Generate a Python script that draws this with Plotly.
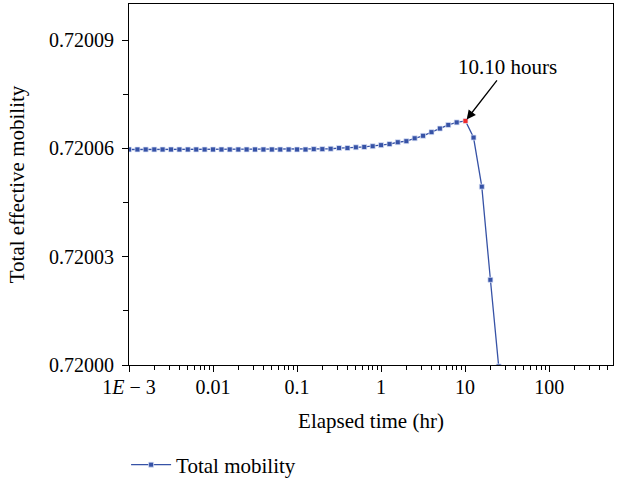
import math
import plotly.graph_objects as go

# Elapsed time (hr)
times = [0.001, 0.00126, 0.00158, 0.002, 0.00251, 0.00316, 0.00398, 0.00501, 0.00631, 0.00794,
         0.01, 0.0126, 0.0158, 0.02, 0.0251, 0.0316, 0.0398, 0.0501, 0.0631, 0.0794,
         0.1, 0.126, 0.158, 0.2, 0.251, 0.316, 0.398, 0.501, 0.631, 0.794,
         1.0, 1.26, 1.58, 2.0, 2.51, 3.16, 3.98, 5.01, 6.31, 7.94,
         10.10, 12.6, 15.8, 20.0, 25.1]

# Total effective mobility
mobility = [0.7200597] * 22 + [
    0.7200598, 0.7200598, 0.7200599, 0.7200601, 0.7200601, 0.7200603, 0.7200604,
    0.7200606, 0.7200609, 0.7200612, 0.7200617, 0.7200620, 0.7200628, 0.7200635,
    0.7200645, 0.7200655, 0.7200665, 0.7200672, 0.7200676,
    0.7200630, 0.7200494, 0.7200236, 0.7199996]

peak_time = 10.10
peak_label = "10.10 hours"

x_major = [0.001, 0.01, 0.1, 1, 10, 100]
x_major_text = ["1<i>E</i> − 3", "0.01", "0.1", "1", "10", "100"]
x_minor = [m * 10 ** e for e in range(-3, 3) for m in range(2, 10) if m * 10 ** e < 580]
y_major = [0.72000, 0.72003, 0.72006, 0.72009]
y_major_text = ["0.72000", "0.72003", "0.72006", "0.72009"]
y_minor = [0.720015, 0.720045, 0.720075]

BLUE = "#3652a6"
RED = "#ee2a2a"
FONT = "Liberation Serif"

peak_idx = times.index(peak_time)
colors = [RED if i == peak_idx else BLUE for i in range(len(times))]

# layout geometry (pixels)
W, H = 620, 479
ML, MR, MT, MB = 129, 7, 4, 114
legend_y = (365 - 465) / (H - MT - MB)

fig = go.Figure()
fig.add_trace(go.Scatter(
    x=times, y=mobility, mode="lines+markers", name="Total mobility",
    line=dict(color=BLUE, width=1.3),
    marker=dict(symbol="square", size=5, color=colors,
                line=dict(color="rgba(225,232,250,0.9)", width=0.8)),
))

fig.add_annotation(
    x=math.log10(times[peak_idx]), y=mobility[peak_idx], xref="x", yref="y",
    text=peak_label, showarrow=True, arrowhead=2, arrowsize=1.4, arrowwidth=1.3,
    arrowcolor="black", ax=42, ay=-54, standoff=2,
    font=dict(family=FONT, size=21, color="black"),
)

fig.update_layout(
    width=W, height=H,
    margin=dict(l=ML, r=MR, t=MT, b=MB, autoexpand=False),
    paper_bgcolor="white", plot_bgcolor="white",
    font=dict(family=FONT, size=20, color="black"),
    showlegend=True,
    legend=dict(orientation="h", x=-0.006, y=legend_y, xanchor="left", yanchor="middle",
                itemwidth=40, font=dict(family=FONT, size=21), bgcolor="rgba(0,0,0,0)"),
)

fig.update_xaxes(
    type="log", range=[-3, 2.76], automargin=False,
    tickmode="array", tickvals=x_major, ticktext=x_major_text,
    ticks="outside", ticklen=6, tickwidth=1, tickcolor="black", ticklabelstandoff=-2,
    minor=dict(tickmode="array", tickvals=x_minor, ticks="outside", ticklen=4,
               tickwidth=1, tickcolor="black"),
    showline=True, linecolor="black", linewidth=1.2, mirror=True,
    showgrid=False, zeroline=False,
    title=dict(text="Elapsed time (hr)", standoff=16, font=dict(family=FONT, size=21)),
    tickfont=dict(family=FONT, size=20),
)
fig.update_yaxes(
    range=[0.72000, 0.72010], automargin=False,
    tickmode="array", tickvals=y_major, ticktext=y_major_text,
    ticks="outside", ticklen=6, tickwidth=1, tickcolor="black", ticklabelstandoff=4,
    minor=dict(tickmode="array", tickvals=y_minor, ticks="outside", ticklen=5,
               tickwidth=1, tickcolor="black"),
    showline=True, linecolor="black", linewidth=1.2, mirror=True,
    showgrid=False, zeroline=False,
    title=dict(text="Total effective mobility", standoff=18, font=dict(family=FONT, size=21)),
    tickfont=dict(family=FONT, size=20),
)

fig.write_html("out.html")
